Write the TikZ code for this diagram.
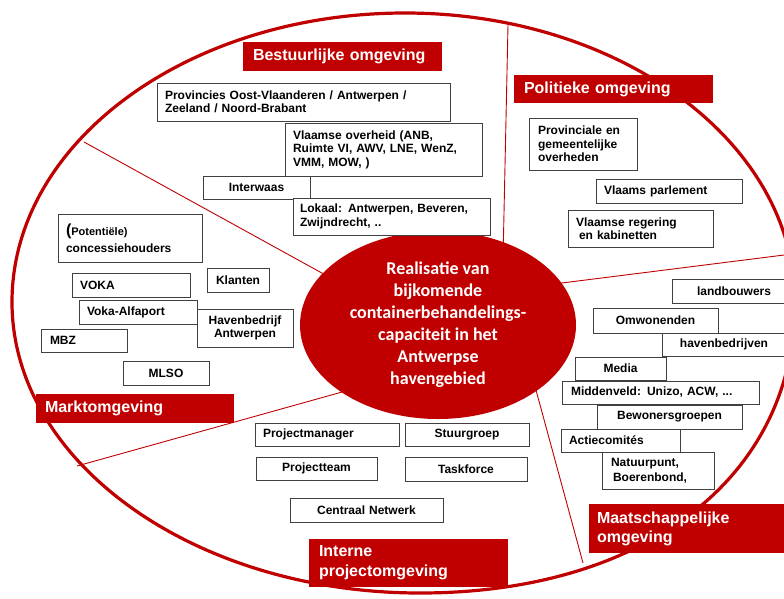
\documentclass[tikz,border=0pt]{standalone}
\usepackage{fontspec}
\setmainfont{Liberation Sans}
\newfontfamily\calibri{Carlito}
\usetikzlibrary{shapes.geometric}
\definecolor{deepred}{HTML}{C00000}
\definecolor{boxline}{HTML}{404040}

\begin{document}
\begin{tikzpicture}[x=1pt,y=-1pt,
  stakebox/.style={draw=boxline, line width=1pt, fill=white, text=black,
    font=\fontsize{12}{13.5}\selectfont\bfseries, inner ysep=0pt, inner xsep=8pt},
  lft/.style={align=left},
  ctr/.style={align=center, inner xsep=4pt},
  zone/.style={fill=deepred, text=white, font=\fontsize{16}{20}\selectfont\bfseries,
    inner ysep=0pt, inner xsep=10pt, align=left},
  divider/.style={draw=deepred, line width=0.9pt},
  rim/.style={draw=deepred, line width=3.2pt}]

\clip (0,0) rectangle (784,598);
\fill[white] (0,0) rectangle (784,598);

% outer boundary of the stakeholder field: four quarter arcs,
% the lower right one a little fuller
\draw[rim] (12,302)
  .. controls (12,142) and (188,13) .. (405,13)
  .. controls (620,13) and (795,142) .. (795,302)
  .. controls (795,477) and (645,593) .. (420,593)
  .. controls (195,593) and (12,463) .. cycle;

% sector dividers
\coordinate (d1a) at (508,25);  \coordinate (d1b) at (503,260);
\coordinate (d2a) at (84,142);  \coordinate (d2b) at (340,283);
\coordinate (d3a) at (77,466);  \coordinate (d3b) at (360,387);
\coordinate (d4a) at (530,287); \coordinate (d4b) at (800,253);
\coordinate (d5a) at (583,563); \coordinate (d5b) at (530,368);
\draw[divider] (d1a) -- (d1b);
\draw[divider] (d2a) -- (d2b);
\draw[divider] (d3a) -- (d3b);
\draw[divider] (d4b) -- (d4a);
\draw[divider] (d5a) -- (d5b);

% project at the centre
\node[ellipse, fill=deepred, minimum width=276, minimum height=188, inner sep=0pt,
  text=white, align=center, font=\calibri\bfseries\fontsize{18}{22}\selectfont]
  (core) at (438,325)
  {Realisatie van\\bijkomende\\containerbehandelings-\\capaciteit in het\\Antwerpse\\havengebied};

% bestuurlijke omgeving
\node[stakebox, lft, text width=277, minimum height=38] (prov) at (303.5,102)
  {Provincies Oost-Vlaanderen / Antwerpen /\\Zeeland / Noord-Brabant};
\node[stakebox, lft, text width=181, minimum height=53] (vlo) at (383.5,149.5)
  {Vlaamse overheid (ANB,\\Ruimte VI, AWV, LNE, WenZ,\\VMM, MOW, )};
\node[stakebox, ctr, text width=99, minimum height=23] (interwaas) at (256.5,187.5) {Interwaas};
\node[stakebox, lft, inner xsep=7pt, text width=183, minimum height=37] (lokaal) at (391.5,216.5)
  {Lokaal: Antwerpen, Beveren,\\Zwijndrecht, ..};

% politieke omgeving
\node[stakebox, lft, inner xsep=9pt, text width=90, minimum height=52] (provov) at (583,144)
  {Provinciale en\\gemeentelijke\\overheden};
\node[stakebox, lft, text width=130, minimum height=24] (parlement) at (669,191) {Vlaams parlement};
\node[stakebox, lft, text width=129, minimum height=37] (regering) at (640.5,228.5)
  {Vlaamse regering\\\hspace*{3pt}en kabinetten};

% marktomgeving
\node[stakebox, lft, text width=128, minimum height=48,
  font=\fontsize{12}{17}\selectfont\bfseries] (concessie) at (130,238)
  {{\fontsize{16}{16}\selectfont(}{\fontsize{11}{14}\selectfont Potentiële)}\\concessiehouders};
\node[stakebox, lft, text width=102, minimum height=24] (voka) at (131,285) {VOKA};
\node[stakebox, ctr, text width=54, minimum height=24] (klanten) at (238,280) {Klanten};
\node[stakebox, lft, text width=102, minimum height=24] (alfaport) at (138,312) {Voka-Alfaport};
\node[stakebox, ctr, text width=88, minimum height=38] (havenbedrijf) at (245,328)
  {Havenbedrijf\\Antwerpen};
\node[stakebox, lft, inner xsep=9pt, text width=68, minimum height=23] (mbz) at (84,340.5) {MBZ};
\node[stakebox, ctr, text width=78, minimum height=24] (mlso) at (166,373) {MLSO};

% maatschappelijke omgeving
\node[stakebox, ctr, text width=116, minimum height=24] (landbouwers) at (734,291) {landbouwers};
\node[stakebox, ctr, text width=117, minimum height=25] (omwonenden) at (655.5,320.5) {Omwonenden};
\node[stakebox, ctr, text width=116, minimum height=23] (havenbedrijven) at (724,344.5) {havenbedrijven};
\node[stakebox, ctr, text width=83, minimum height=23] (media) at (620.5,368.5) {Media};
\node[stakebox, lft, inner xsep=9pt, text width=179, minimum height=23] (middenveld) at (660.5,392.5)
  {Middenveld: Unizo, ACW, ...};
\node[stakebox, ctr, text width=137, minimum height=24] (bewoners) at (669.5,417) {Bewonersgroepen};
\node[stakebox, lft, text width=103, minimum height=23] (actie) at (620.5,440.5) {Actiecomités};
\node[stakebox, lft, inner xsep=9pt, text width=94, minimum height=37,
  font=\fontsize{12}{15}\selectfont\bfseries] (natuur) at (658,470.5)
  {Natuurpunt,\\\hspace*{2pt}Boerenbond,};

% interne projectomgeving
\node[stakebox, lft, text width=128, minimum height=23] (pm) at (327,434.5) {Projectmanager};
\node[stakebox, ctr, text width=116, minimum height=23] (stuur) at (467,434.5) {Stuurgroep};
\node[stakebox, ctr, text width=113, minimum height=23] (team) at (316.5,468.5) {Projectteam};
\node[stakebox, ctr, text width=114, minimum height=24] (task) at (466,469) {Taskforce};
\node[stakebox, ctr, text width=145, minimum height=24] (netwerk) at (366.5,510) {Centraal Netwerk};

% sector titles
\node[zone, text width=179, minimum height=29] (tbestuur) at (342.5,56.5) {Bestuurlijke omgeving};
\node[zone, text width=179, minimum height=28] (tpolitiek) at (613.5,89) {Politieke omgeving};
\node[zone, inner xsep=9pt, text width=180, minimum height=29] (tmarkt) at (135,408.5) {Marktomgeving};
\node[zone, inner xsep=8pt, text width=195, minimum height=49,
  font=\fontsize{16}{19}\selectfont\bfseries] (tmaatsch) at (694.5,528.5) {Maatschappelijke\\omgeving};
\node[zone, text width=179, minimum height=48] (tintern) at (408.5,563) {Interne\\projectomgeving};
\end{tikzpicture}
\end{document}
